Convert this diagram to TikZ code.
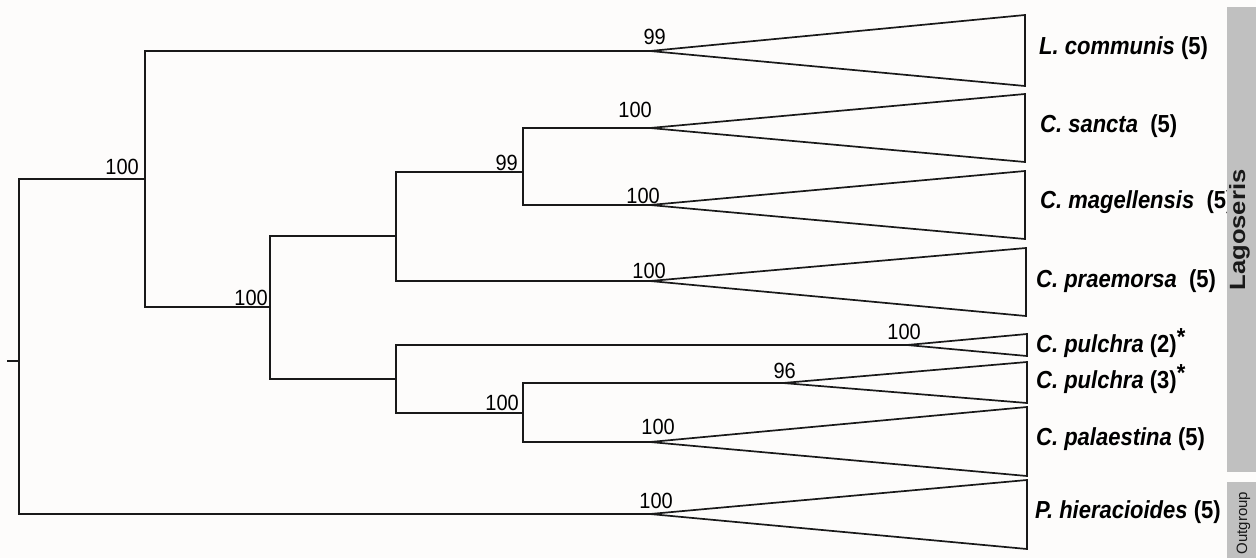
\documentclass[tikz,border=0pt]{standalone}
\usepackage{fontspec}
\setmainfont{Liberation Sans}
\usepackage{graphicx}
\definecolor{paper}{RGB}{253,252,251}
\definecolor{barfill}{RGB}{192,192,192}
\definecolor{ink}{RGB}{25,25,25}
\newcommand{\tallnum}[1]{\scalebox{1}[1.1]{#1}}
\newcommand{\talltaxon}[1]{\scalebox{1}[1.12]{#1}}
\begin{document}
\begin{tikzpicture}[x=1pt,y=-1pt,
  branch/.style={draw=ink,line width=2pt,line join=miter,line cap=rect},
  clade/.style={draw=ink,line width=1.7pt,line join=miter},
  support/.style={inner sep=0pt,anchor=base east,font=\fontsize{20}{24}\selectfont},
  taxon/.style={inner sep=0pt,anchor=base west,font=\fontsize{22}{26}\selectfont\bfseries},
  bar/.style={fill=barfill,draw=none}]
% page and background
\fill[paper] (0,0) rectangle (1256,558);
\useasboundingbox (0,0) rectangle (1256,558);

% internal nodes (point where each joins its parent)
\coordinate (stub) at (8,361);
\coordinate (n0) at (19,361);
\coordinate (nA) at (145,179);
\coordinate (nB) at (270,307);
\coordinate (nC) at (396,236);
\coordinate (nD) at (523,172);
\coordinate (nE) at (396,379);
\coordinate (nF) at (523,413);

% clade tips
\coordinate (tLc) at (650,51);
\coordinate (tCs) at (650,128);
\coordinate (tCm) at (650,205);
\coordinate (tCp) at (650,281);
\coordinate (tPu2) at (907,345);
\coordinate (tPu3) at (783,383);
\coordinate (tPa) at (650,442);
\coordinate (tPh) at (650,514);

% tree branches
\draw[branch] (stub) -- (n0);
\draw[branch] (nA) -| (n0) |- (tPh);
\draw[branch] (tLc) -| (nA) |- (nB);
\draw[branch] (nC) -| (nB) |- (nE);
\draw[branch] (nD) -| (nC) |- (tCp);
\draw[branch] (tCs) -| (nD) |- (tCm);
\draw[branch] (tPu2) -| (nE) |- (nF);
\draw[branch] (tPu3) -| (nF) |- (tPa);

% collapsed clades
\draw[clade] (tLc) -- (1025,15) -- (1025,86) -- cycle;
\draw[clade] (tCs) -- (1025,94) -- (1025,162) -- cycle;
\draw[clade] (tCm) -- (1025,171) -- (1025,239) -- cycle;
\draw[clade] (tCp) -- (1026,248) -- (1026,316) -- cycle;
\draw[clade] (tPu2) -- (1027,334) -- (1027,356) -- cycle;
\draw[clade] (tPu3) -- (1027,362) -- (1027,403) -- cycle;
\draw[clade] (tPa) -- (1027,407) -- (1027,476) -- cycle;
\draw[clade] (tPh) -- (1027,480) -- (1027,549) -- cycle;

% bootstrap support
\node[support] (sA)   at (139,174) {\tallnum{100}};
\node[support] (sB)   at (268,305) {\tallnum{100}};
\node[support] (sD)   at (518,170) {\tallnum{99}};
\node[support] (sF)   at (519,410) {\tallnum{100}};
\node[support] (sLc)  at (666,44)  {\tallnum{99}};
\node[support] (sCs)  at (652,117) {\tallnum{100}};
\node[support] (sCm)  at (660,203) {\tallnum{100}};
\node[support] (sCp)  at (666,278) {\tallnum{100}};
\node[support] (sPu2) at (921,339) {\tallnum{100}};
\node[support] (sPu3) at (796,378) {\tallnum{96}};
\node[support] (sPa)  at (675,434) {\tallnum{100}};
\node[support] (sPh)  at (673,508) {\tallnum{100}};

% taxon labels
\node[taxon] (lLc)  at (1039,54)  {\talltaxon{\itshape L. communis\upshape\ (5)}};
\node[taxon] (lCs)  at (1040,132) {\talltaxon{\itshape C. sancta\upshape\ \ (5)}};
\node[taxon] (lCm)  at (1040,208) {\talltaxon{\itshape C. magellensis\upshape\ \ (5)}};
\node[taxon] (lCp)  at (1036,287) {\talltaxon{\itshape C. praemorsa\upshape\ \ (5)}};
\node[taxon] (lPu2) at (1036,352) {\talltaxon{\itshape C. pulchra\upshape\ (2)\raisebox{6pt}{*}}};
\node[taxon] (lPu3) at (1036,388) {\talltaxon{\itshape C. pulchra\upshape\ (3)\raisebox{6pt}{*}}};
\node[taxon] (lPa)  at (1036,445) {\talltaxon{\itshape C. palaestina\upshape\ (5)}};
\node[taxon] (lPh)  at (1035,518) {\talltaxon{\itshape P. hieracioides\upshape\ (5)}};

% group bars
\fill[bar] (1227,7) rectangle (1256,472);
\fill[bar] (1227,482) rectangle (1256,558);
\node[inner sep=0pt,anchor=base,rotate=90,font=\fontsize{21}{24}\selectfont\bfseries,text=ink]
  (gLag) at (1245,230) {\scalebox{1.22}[1.05]{Lagoseris}};
\node[inner sep=0pt,anchor=base,rotate=90,font=\fontsize{15}{18}\selectfont,text=ink]
  (gOut) at (1247,523) {Outgroup};
\end{tikzpicture}
\end{document}
